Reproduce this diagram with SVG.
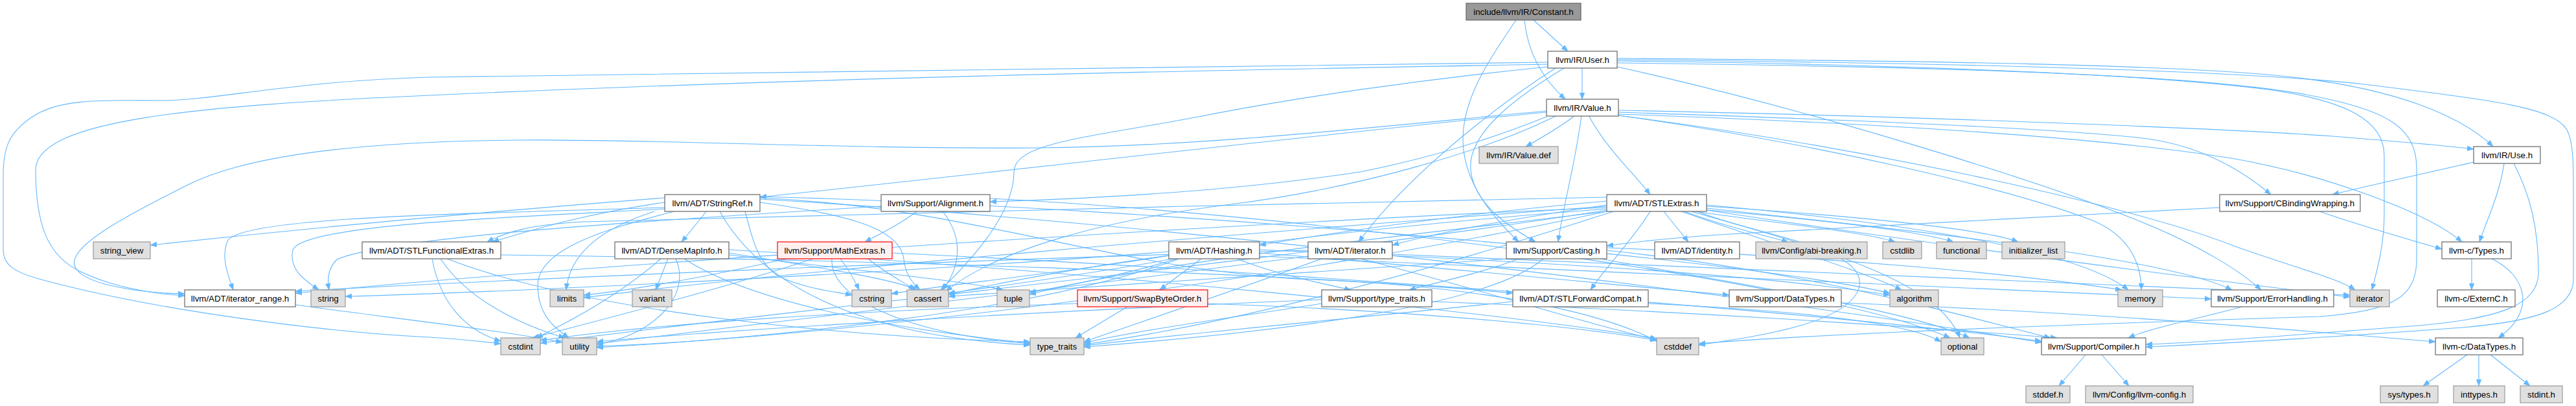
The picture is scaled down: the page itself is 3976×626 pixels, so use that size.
<svg xmlns="http://www.w3.org/2000/svg" width="3976" height="626" viewBox="0 0 3976 626">
<defs>
<marker id="ah" viewBox="0 0 10 8" refX="10" refY="4" markerWidth="10" markerHeight="8" markerUnits="userSpaceOnUse" orient="auto">
<path d="M0,0 L10,4 L0,8 z" fill="#63b8ff" stroke="#63b8ff" stroke-width="0.5"/>
</marker>
</defs>
<style>
.e path{fill:none;stroke:#63b8ff;stroke-width:1.1;marker-end:url(#ah)}
rect{stroke-width:1.2}
.n{fill:#ffffff;stroke:#666666}
.x{fill:#e0e0e0;stroke:#999999}
.r{fill:#fff0f0;stroke:#ff0000}
.m{fill:#999999;stroke:#666666}
text{font-family:"Liberation Sans",Arial,Helvetica,sans-serif;font-size:13.3px;text-anchor:middle;fill:#000000}
</style>
<rect x="0" y="0" width="3976" height="626" fill="#ffffff"/>
<g id="connectors" class="e">
<path d="M2367,31 C2385,47 2402,63 2420,79"/>
<path d="M2353,31 C2358,85 2385,125 2416,153"/>
<path d="M2340,31 C2300,90 2258,150 2258,215 C2258,285 2310,340 2344,373"/>
<path d="M2442,105 L2442,153"/>
<path d="M2401,105 C2330,150 2180,260 2097,373"/>
<path d="M2414,105 C2340,150 2265,205 2270,262 C2275,315 2330,350 2370,373"/>
<path d="M2389,99 C1900,108 1300,118 663,147 C300,163 60,185 55,260 C55,340 70,395 127,420 C180,445 240,453 285,456"/>
<path d="M2389,96 C1600,104 1000,110 663,119 C450,125 330,155 250,155 C170,155 95,150 50,180 C12,205 5,230 5,270 L5,385 C5,410 25,420 60,430 C250,482 520,513 663,520 C700,522 740,526 773,530"/>
<path d="M2389,103 C2200,122 2000,150 1850,180 C1680,212 1565,220 1565,265 C1565,330 1500,400 1452,447"/>
<path d="M2496,90 C3000,94 3350,100 3520,117 C3700,135 3800,180 3848,226"/>
<path d="M2496,92 C3000,97 3450,108 3650,130 C3850,155 3940,165 3962,200 C3972,220 3972,250 3972,300 L3972,430 C3972,475 3920,495 3800,505 C3600,520 3420,530 3312,535"/>
<path d="M2496,94 C3000,100 3350,118 3500,138 C3620,155 3680,185 3680,240 L3680,330 C3680,380 3668,420 3661,447"/>
<path d="M2496,103 C2800,170 3150,280 3300,340 C3400,380 3460,420 3490,447"/>
<path d="M2496,97 C3000,103 3420,115 3580,150 C3690,172 3730,200 3730,260 L3730,400 C3730,460 3690,480 3580,488 C3200,500 2800,515 2622,530"/>
<path d="M2431,178 C2410,195 2380,212 2355,226"/>
<path d="M2452,178 C2480,230 2520,265 2547,300"/>
<path d="M2441,178 C2432,250 2412,320 2405,373"/>
<path d="M2387,173 C2100,200 1500,270 1173,304"/>
<path d="M2387,180 C2300,215 2200,245 2100,265 C1900,295 1700,306 1528,311"/>
<path d="M2387,171 C2100,198 1850,226 1600,228 C1300,230 1000,214 800,216 C550,218 380,240 290,285 C190,335 95,385 118,415 C135,440 220,452 285,453"/>
<path d="M2403,178 C2300,230 2100,290 1900,315 C1700,340 1540,385 1460,449"/>
<path d="M2498,170 C2900,178 3400,196 3600,210 C3700,218 3770,224 3818,230"/>
<path d="M2498,173 C2900,186 3200,200 3315,214 C3400,226 3460,262 3505,300"/>
<path d="M2498,176 C2900,190 3250,212 3450,245 C3600,272 3750,330 3800,373"/>
<path d="M2498,178 C2900,230 3300,320 3450,380 C3550,415 3610,430 3635,447"/>
<path d="M2498,178 C2800,220 3100,290 3230,340 C3290,365 3305,410 3305,447"/>
<path d="M3865,252 C3858,300 3838,340 3827,373"/>
<path d="M3818,250 C3740,268 3660,285 3600,300"/>
<path d="M3880,252 C3905,300 3918,350 3918,420 C3918,470 3860,492 3720,503 C3520,518 3400,528 3312,531"/>
<path d="M3580,326 C3650,350 3720,370 3769,384"/>
<path d="M3426,320 C3200,333 2800,352 2652,362 C2580,367 2530,372 2480,379"/>
<path d="M3815,399 L3815,447"/>
<path d="M3846,399 C3900,425 3915,480 3856,521"/>
<path d="M3808,547 L3740,595"/>
<path d="M3826,547 L3826,595"/>
<path d="M3844,547 L3905,595"/>
<path d="M3219,547 L3178,595"/>
<path d="M3244,547 L3286,595"/>
<path d="M3460,473 C3400,490 3320,505 3285,521"/>
<path d="M2842,467 C3200,480 3500,505 3759,527"/>
<path d="M1026,305 C700,330 400,360 232,378"/>
<path d="M1026,312 C900,330 820,355 760,373"/>
<path d="M1090,326 C1075,345 1063,360 1052,373"/>
<path d="M1026,320 C700,330 380,335 352,370 C340,395 352,425 360,447"/>
<path d="M1026,322 C800,335 470,345 452,385 C445,415 470,432 492,447"/>
<path d="M1010,326 C950,345 880,380 874,447"/>
<path d="M1040,326 C950,350 830,380 830,440 C830,485 855,505 878,521"/>
<path d="M1111,326 C1180,450 1350,520 1590,532"/>
<path d="M1150,326 C1160,360 1165,400 1200,425 C1240,445 1290,450 1315,455"/>
<path d="M1173,312 C1300,330 1390,350 1395,400 C1398,425 1410,438 1420,447"/>
<path d="M1173,305 C1500,320 1700,410 2000,430 C2300,440 2480,485 2557,526"/>
<path d="M1173,303 C1800,320 2700,400 2917,452"/>
<path d="M1173,307 C1900,350 2800,470 3151,528"/>
<path d="M1415,326 C1390,345 1360,360 1335,373"/>
<path d="M1455,326 C1490,370 1480,415 1455,447"/>
<path d="M1528,306 C2000,330 2800,430 3010,521"/>
<path d="M1360,318 C1000,340 600,365 520,400 C505,415 505,432 508,447"/>
<path d="M1213,399 C1100,425 980,447 901,455"/>
<path d="M1255,399 C1100,450 900,500 822,521"/>
<path d="M1297,399 C1310,415 1318,430 1326,447"/>
<path d="M1284,399 C1280,460 1400,515 1590,530"/>
<path d="M1340,399 C1365,420 1395,435 1412,447"/>
<path d="M1377,390 C2000,420 2800,480 3151,526"/>
<path d="M2480,310 C2250,330 2050,360 1944,378"/>
<path d="M2547,326 C2520,370 2480,410 2455,447"/>
<path d="M2480,304 C2000,315 1200,330 900,342 C820,346 780,358 752,373"/>
<path d="M2568,326 L2606,373"/>
<path d="M2480,316 C2350,335 2230,355 2149,378"/>
<path d="M2480,320 C2000,340 1000,400 456,452"/>
<path d="M2600,326 C2650,345 2710,360 2760,373"/>
<path d="M2615,326 C2750,345 2880,358 2925,373"/>
<path d="M2625,323 C2800,338 2960,355 3015,373"/>
<path d="M2634,318 C2850,332 3060,352 3115,373"/>
<path d="M2634,321 C3000,360 3350,400 3445,447"/>
<path d="M2595,326 C2750,380 2880,420 2935,447"/>
<path d="M2480,322 C2100,350 1700,400 1464,454"/>
<path d="M2620,326 C2700,360 2880,380 2870,440 C2860,500 2700,520 2622,532"/>
<path d="M2480,324 C2000,400 1200,480 834,529"/>
<path d="M2634,324 C3000,380 3400,430 3627,458"/>
<path d="M2480,318 C1900,360 1200,420 901,459"/>
<path d="M2634,316 C2900,340 3200,380 3285,447"/>
<path d="M2610,326 C2800,380 2990,430 3025,521"/>
<path d="M2480,326 C2200,360 1800,400 1589,454"/>
<path d="M2490,326 C2200,420 1900,500 1673,531"/>
<path d="M2480,326 C2000,430 1300,520 921,534"/>
<path d="M1854,399 L1790,447"/>
<path d="M1944,390 C2200,410 2500,440 2669,455"/>
<path d="M1944,395 C2500,420 3000,440 3413,461"/>
<path d="M1910,399 C1960,420 2030,435 2085,447"/>
<path d="M1816,399 C1750,420 1650,440 1589,451"/>
<path d="M1810,399 C1700,420 1550,440 1464,452"/>
<path d="M1805,394 C1650,420 1450,440 1376,453"/>
<path d="M1804,388 C1400,420 800,450 533,457"/>
<path d="M1944,385 C2300,400 2700,420 2917,455"/>
<path d="M1820,399 C1600,480 1200,520 921,536"/>
<path d="M2019,386 C1500,400 800,430 456,449"/>
<path d="M2100,399 C2300,450 2450,500 2557,524"/>
<path d="M2149,392 C2800,420 3300,440 3627,455"/>
<path d="M2040,399 C1900,450 1750,500 1673,527"/>
<path d="M2019,395 C1600,450 1100,510 921,530"/>
<path d="M2344,399 C2290,420 2220,435 2175,447"/>
<path d="M2382,399 C2300,470 2000,510 1673,535"/>
<path d="M2330,399 C2000,420 1700,440 1464,457"/>
<path d="M2480,386 C2800,420 3000,480 3165,521"/>
<path d="M2480,382 C2800,395 3100,420 3275,447"/>
<path d="M2470,399 C2700,440 2950,480 3040,521"/>
<path d="M2210,465 C2600,480 2900,500 3175,521"/>
<path d="M2040,468 C1900,490 1750,510 1673,529"/>
<path d="M2040,462 C1600,480 1100,510 921,527"/>
<path d="M2335,465 C2100,490 1850,512 1673,533"/>
<path d="M2544,468 C2800,480 2950,500 2996,527"/>
<path d="M773,393 C1300,400 2000,420 2335,452"/>
<path d="M667,399 C680,470 720,510 773,526"/>
<path d="M680,399 C720,460 800,500 872,521"/>
<path d="M690,399 C900,480 1300,520 1590,527"/>
<path d="M1020,399 C950,460 870,500 828,521"/>
<path d="M1031,399 L1012,447"/>
<path d="M1043,399 C1070,460 1000,520 921,531"/>
<path d="M1056,399 C1150,460 1350,505 1590,529"/>
<path d="M1125,390 C1250,410 1380,430 1415,447"/>
<path d="M1125,385 C1700,420 2300,480 2557,522"/>
<path d="M1125,393 C1350,420 1500,435 1548,447"/>
<path d="M1740,473 L1660,521"/>
<path d="M1663,468 C1300,480 1000,500 834,525"/>
<path d="M1864,468 C2200,480 2450,505 2557,525"/>
<path d="M456,470 C600,490 780,510 868,528"/>
</g>
<g id="n_constant"><rect class="m" x="2263" y="5" width="177" height="26"/><text x="2351.5" y="22.7">include/llvm/IR/Constant.h</text></g>
<g id="n_user"><rect class="n" x="2389" y="79" width="107" height="26"/><text x="2442.5" y="96.7">llvm/IR/User.h</text></g>
<g id="n_value"><rect class="n" x="2387" y="153" width="111" height="26"/><text x="2442.5" y="170.7">llvm/IR/Value.h</text></g>
<g id="n_valuedef"><rect class="x" x="2283" y="226" width="122" height="26"/><text x="2344" y="243.7">llvm/IR/Value.def</text></g>
<g id="n_use"><rect class="n" x="3818" y="226" width="103" height="26"/><text x="3869.5" y="243.7">llvm/IR/Use.h</text></g>
<g id="n_stringref"><rect class="n" x="1026" y="300" width="147" height="26"/><text x="1099.5" y="317.7">llvm/ADT/StringRef.h</text></g>
<g id="n_alignment"><rect class="n" x="1360" y="300" width="168" height="26"/><text x="1444" y="317.7">llvm/Support/Alignment.h</text></g>
<g id="n_stlextras"><rect class="n" x="2480" y="300" width="154" height="26"/><text x="2557" y="317.7">llvm/ADT/STLExtras.h</text></g>
<g id="n_cbinding"><rect class="n" x="3426" y="300" width="217" height="26"/><text x="3534.5" y="317.7">llvm/Support/CBindingWrapping.h</text></g>
<g id="n_string_view"><rect class="x" x="144" y="373" width="88" height="26"/><text x="188" y="390.7">string_view</text></g>
<g id="n_stlfunc"><rect class="n" x="559" y="373" width="214" height="26"/><text x="666" y="390.7">llvm/ADT/STLFunctionalExtras.h</text></g>
<g id="n_densemap"><rect class="n" x="949" y="373" width="176" height="26"/><text x="1037" y="390.7">llvm/ADT/DenseMapInfo.h</text></g>
<g id="n_mathextras"><rect class="r" x="1200" y="373" width="177" height="26"/><text x="1288.5" y="390.7">llvm/Support/MathExtras.h</text></g>
<g id="n_hashing"><rect class="n" x="1804" y="373" width="140" height="26"/><text x="1874" y="390.7">llvm/ADT/Hashing.h</text></g>
<g id="n_iteratorh"><rect class="n" x="2019" y="373" width="130" height="26"/><text x="2084" y="390.7">llvm/ADT/iterator.h</text></g>
<g id="n_casting"><rect class="n" x="2325" y="373" width="155" height="26"/><text x="2402.5" y="390.7">llvm/Support/Casting.h</text></g>
<g id="n_identity"><rect class="n" x="2554" y="373" width="131" height="26"/><text x="2619.5" y="390.7">llvm/ADT/identity.h</text></g>
<g id="n_abi"><rect class="x" x="2710" y="373" width="172" height="26"/><text x="2796" y="390.7">llvm/Config/abi-breaking.h</text></g>
<g id="n_cstdlib"><rect class="x" x="2906" y="373" width="60" height="26"/><text x="2936" y="390.7">cstdlib</text></g>
<g id="n_functional"><rect class="x" x="2989" y="373" width="77" height="26"/><text x="3027.5" y="390.7">functional</text></g>
<g id="n_initlist"><rect class="x" x="3090" y="373" width="97" height="26"/><text x="3138.5" y="390.7">initializer_list</text></g>
<g id="n_ctypes"><rect class="n" x="3769" y="373" width="107" height="26"/><text x="3822.5" y="390.7">llvm-c/Types.h</text></g>
<g id="n_iterrange"><rect class="n" x="285" y="447" width="171" height="26"/><text x="370.5" y="464.7">llvm/ADT/iterator_range.h</text></g>
<g id="n_string"><rect class="x" x="480" y="447" width="53" height="26"/><text x="506.5" y="464.7">string</text></g>
<g id="n_limits"><rect class="x" x="849" y="447" width="52" height="26"/><text x="875" y="464.7">limits</text></g>
<g id="n_variant"><rect class="x" x="976" y="447" width="61" height="26"/><text x="1006.5" y="464.7">variant</text></g>
<g id="n_cstring"><rect class="x" x="1315" y="447" width="61" height="26"/><text x="1345.5" y="464.7">cstring</text></g>
<g id="n_cassert"><rect class="x" x="1400" y="447" width="64" height="26"/><text x="1432" y="464.7">cassert</text></g>
<g id="n_tuple"><rect class="x" x="1539" y="447" width="50" height="26"/><text x="1564" y="464.7">tuple</text></g>
<g id="n_swapbyte"><rect class="r" x="1663" y="447" width="201" height="26"/><text x="1763.5" y="464.7">llvm/Support/SwapByteOrder.h</text></g>
<g id="n_typetraitsh"><rect class="n" x="2040" y="447" width="170" height="26"/><text x="2125" y="464.7">llvm/Support/type_traits.h</text></g>
<g id="n_stlfwd"><rect class="n" x="2335" y="447" width="209" height="26"/><text x="2439.5" y="464.7">llvm/ADT/STLForwardCompat.h</text></g>
<g id="n_datatypesh"><rect class="n" x="2669" y="447" width="173" height="26"/><text x="2755.5" y="464.7">llvm/Support/DataTypes.h</text></g>
<g id="n_algorithm"><rect class="x" x="2917" y="447" width="75" height="26"/><text x="2954.5" y="464.7">algorithm</text></g>
<g id="n_memory"><rect class="x" x="3269" y="447" width="69" height="26"/><text x="3303.5" y="464.7">memory</text></g>
<g id="n_errorh"><rect class="n" x="3413" y="447" width="189" height="26"/><text x="3507.5" y="464.7">llvm/Support/ErrorHandling.h</text></g>
<g id="n_iterator"><rect class="x" x="3627" y="447" width="61" height="26"/><text x="3657.5" y="464.7">iterator</text></g>
<g id="n_externc"><rect class="n" x="3762" y="447" width="120" height="26"/><text x="3822" y="464.7">llvm-c/ExternC.h</text></g>
<g id="n_cstdint"><rect class="x" x="773" y="521" width="61" height="26"/><text x="803.5" y="538.7">cstdint</text></g>
<g id="n_utility"><rect class="x" x="868" y="521" width="53" height="26"/><text x="894.5" y="538.7">utility</text></g>
<g id="n_typetraits"><rect class="x" x="1590" y="521" width="83" height="26"/><text x="1631.5" y="538.7">type_traits</text></g>
<g id="n_cstddef"><rect class="x" x="2557" y="521" width="65" height="26"/><text x="2589.5" y="538.7">cstddef</text></g>
<g id="n_optional"><rect class="x" x="2996" y="521" width="66" height="26"/><text x="3029" y="538.7">optional</text></g>
<g id="n_compiler"><rect class="n" x="3151" y="521" width="161" height="26"/><text x="3231.5" y="538.7">llvm/Support/Compiler.h</text></g>
<g id="n_cdatatypes"><rect class="n" x="3759" y="521" width="135" height="26"/><text x="3826.5" y="538.7">llvm-c/DataTypes.h</text></g>
<g id="n_stddef"><rect class="x" x="3127" y="595" width="68" height="26"/><text x="3161" y="612.7">stddef.h</text></g>
<g id="n_llvmconfig"><rect class="x" x="3219" y="595" width="166" height="26"/><text x="3302" y="612.7">llvm/Config/llvm-config.h</text></g>
<g id="n_systypes"><rect class="x" x="3674" y="595" width="89" height="26"/><text x="3718.5" y="612.7">sys/types.h</text></g>
<g id="n_inttypes"><rect class="x" x="3787" y="595" width="79" height="26"/><text x="3826.5" y="612.7">inttypes.h</text></g>
<g id="n_stdint"><rect class="x" x="3890" y="595" width="65" height="26"/><text x="3922.5" y="612.7">stdint.h</text></g>
</svg>
